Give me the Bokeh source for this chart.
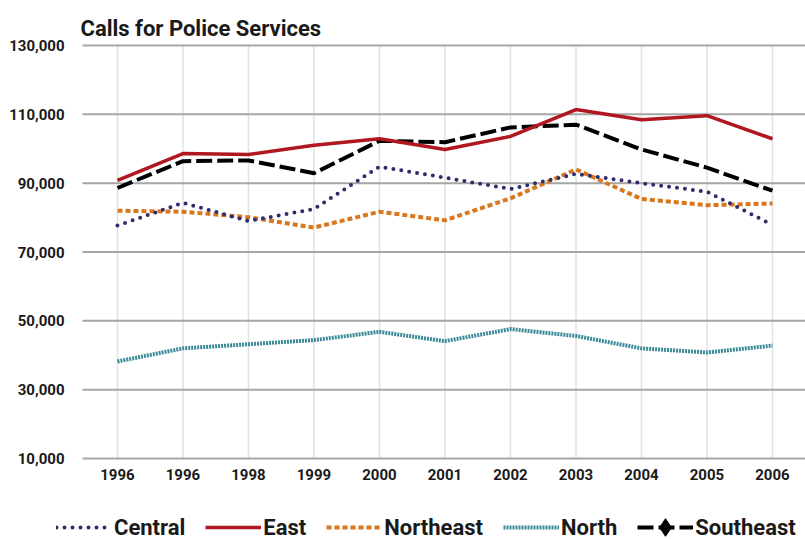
from bokeh.plotting import figure
from bokeh.models import Range1d, FixedTicker, Legend, LegendItem, NumeralTickFormatter, Label
from bokeh.embed import file_html
from bokeh.resources import INLINE

title = "Calls for Police Services"
years = ["1996", "1996", "1998", "1999", "2000", "2001", "2002", "2003", "2004", "2005", "2006"]
central = [77700, 84300, 79000, 82500, 94800, 91600, 88300, 92700, 90000, 87500, 77900]
east = [90800, 98600, 98300, 101000, 102900, 99800, 103600, 111400, 108400, 109600, 102900]
northeast = [82000, 81700, 80100, 77100, 81700, 79200, 85600, 94000, 85400, 83600, 84100]
north = [38200, 42000, 43200, 44400, 46800, 44100, 47600, 45600, 42000, 40800, 42800]
southeast = [88600, 96400, 96600, 92900, 102300, 101900, 106200, 107000, 99800, 94500, 87800]
y_ticks = [10000, 30000, 50000, 70000, 90000, 110000, 130000]

x = list(range(len(years)))
n = len(x)
FONT = "Roboto"
TXT = "#1a1a1a"

# plotting area: categories padded by about half a step on each side
X_LO, X_HI = -0.534, 10.504
x_range = Range1d(X_LO - 82 / 65.5, X_HI)

p = figure(width=805, height=539, output_backend="svg", toolbar_location=None,
           x_range=x_range, y_range=Range1d(-13535, 143075),
           min_border_left=0, min_border_right=0, min_border_top=0, min_border_bottom=0)
p.outline_line_color = None

p.add_layout(Label(x=80, y=511, x_units="screen", y_units="screen", text=title,
                   text_font=FONT, text_font_style="bold", text_font_size="22px",
                   text_color=TXT, text_baseline="alphabetic", text_align="left"))

p.yaxis.ticker = FixedTicker(ticks=y_ticks)
p.yaxis.formatter = NumeralTickFormatter(format="0,0")
p.yaxis.fixed_location = X_LO
p.xaxis.ticker = FixedTicker(ticks=x)
p.xaxis.major_label_overrides = {i: years[i] for i in x}
p.xaxis.fixed_location = y_ticks[0]
for ax in (p.xaxis, p.yaxis):
    ax.axis_line_color = None
    ax.major_tick_line_color = None
    ax.minor_tick_line_color = None
    ax.major_label_text_font = FONT
    ax.major_label_text_font_style = "bold"
    ax.major_label_text_font_size = "15px"
    ax.major_label_text_color = TXT
p.yaxis.major_label_standoff = 12
p.xaxis.major_label_standoff = 4

p.xgrid.visible = False
p.ygrid.visible = False
# vertical grid lines at each category, between the lowest and highest y tick
p.segment(x0=x, y0=[y_ticks[0]] * n, x1=x, y1=[y_ticks[-1]] * n,
          line_color="#e2e2e2", line_width=1.5, level="underlay")
# horizontal grid lines at the y ticks, across the plotting area
m = len(y_ticks)
p.segment(x0=[X_LO] * m, y0=y_ticks, x1=[X_HI] * m, y1=y_ticks,
          line_color="#a6a6a6", line_width=2, level="underlay")

r_ne = p.line(x, northeast, line_color="#d9771f", line_width=4, line_dash="5 3")
r_n = p.line(x, north, line_color="#3a8b96", line_width=4, line_dash="2 1")
r_c = p.line(x, central, line_color="#2e2d6d", line_width=4, line_dash="0 8", line_cap="round")
r_se = p.line(x, southeast, line_color="black", line_width=4, line_dash="16 5")
r_e = p.line(x, east, line_color="#b0171f", line_width=3.5)
r_se_m = p.scatter(x, southeast, marker="diamond", size=10, color="black", visible=False)

legend = Legend(items=[
    LegendItem(label="Central", renderers=[r_c]),
    LegendItem(label="East", renderers=[r_e]),
    LegendItem(label="Northeast", renderers=[r_ne]),
    LegendItem(label="North", renderers=[r_n]),
    LegendItem(label="Southeast", renderers=[r_se, r_se_m]),
], orientation="horizontal", location=(56, -10), glyph_width=56, glyph_height=44,
    label_standoff=2, spacing=20, padding=0, margin=0,
    border_line_color=None, background_fill_alpha=0,
    label_text_font=FONT, label_text_font_style="bold", label_text_font_size="22px",
    label_text_color=TXT)
p.add_layout(legend)

open("out.html", "w").write(file_html(p, INLINE))
